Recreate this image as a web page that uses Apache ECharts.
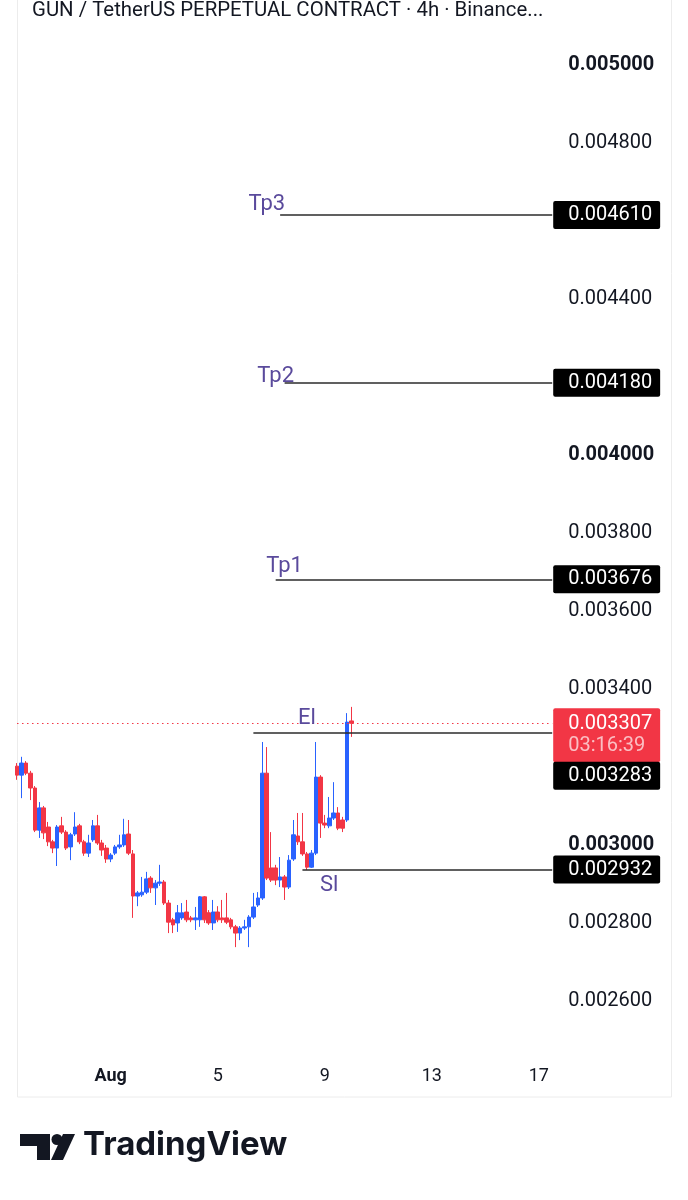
<!DOCTYPE html>
<html><head><meta charset="utf-8">
<script src="https://cdn.jsdelivr.net/npm/echarts@6/dist/echarts.min.js"></script>
<style>html,body{margin:0;padding:0;background:#fff}#c{width:688px;height:1200px}</style>
</head><body><div id="c"></div>
<script>
const titleText = 'GUN / TetherUS PERPETUAL CONTRACT · 4h · Binance...';
const startTime = Date.UTC(2025, 6, 28, 12, 0);
const stepHours = 4;
const slotCount = 121;
function pad(n){return (n<10?'0':'')+n;}
const categories = [];
for (let i = 0; i < slotCount; i++) {
  const d = new Date(startTime + i * stepHours * 3600e3);
  categories.push(pad(d.getUTCMonth()+1)+'-'+pad(d.getUTCDate())+' '+pad(d.getUTCHours())+':00');
}
const opens = [
0.003197,0.003174,0.003205,0.003179,0.003141,0.003033,0.003090,0.003041,0.003003,0.002987,
0.003044,0.003028,0.002990,0.003023,0.003044,0.003003,0.002974,0.003008,0.003044,0.003000,
0.002987,0.002959,0.002974,0.002990,0.002995,0.003023,0.002972,0.002864,0.002867,0.002874,
0.002910,0.002885,0.002897,0.002900,0.002846,0.002803,0.002795,0.002808,0.002823,0.002808,
0.002803,0.002803,0.002862,0.002821,0.002795,0.002823,0.002808,0.002808,0.002803,0.002785,
0.002769,0.002782,0.002785,0.002810,0.002841,0.002859,0.003179,0.002936,0.002936,0.002905,
0.002913,0.002887,0.002959,0.003018,0.003003,0.002972,0.002938,0.002974,0.003169,0.003051,
0.003044,0.003064,0.003077,0.003059,0.003059,0.003313];
const closes = [
0.003174,0.003205,0.003179,0.003141,0.003033,0.003090,0.003026,0.003003,0.002987,0.003041,
0.003028,0.002987,0.003021,0.003041,0.003003,0.002974,0.003000,0.003044,0.003000,0.002982,
0.002959,0.002969,0.002990,0.002995,0.003021,0.002974,0.002864,0.002872,0.002874,0.002908,
0.002885,0.002897,0.002900,0.002846,0.002797,0.002790,0.002821,0.002821,0.002803,0.002803,
0.002808,0.002862,0.002803,0.002795,0.002823,0.002803,0.002803,0.002797,0.002785,0.002769,
0.002782,0.002785,0.002810,0.002836,0.002859,0.003179,0.002910,0.002905,0.002905,0.002913,
0.002887,0.002956,0.003021,0.003003,0.002972,0.002938,0.002974,0.003169,0.003051,0.003046,
0.003064,0.003077,0.003038,0.003038,0.003310,0.003307];
const lows = [
0.003162,0.003115,0.003174,0.003110,0.003028,0.003013,0.003010,0.002992,0.002974,0.002941,
0.003023,0.002982,0.002956,0.003018,0.002997,0.002967,0.002964,0.003003,0.002995,0.002967,
0.002949,0.002951,0.002969,0.002985,0.002990,0.002969,0.002808,0.002838,0.002862,0.002869,
0.002872,0.002841,0.002890,0.002841,0.002769,0.002769,0.002772,0.002803,0.002797,0.002797,
0.002777,0.002785,0.002795,0.002790,0.002777,0.002797,0.002795,0.002792,0.002779,0.002733,
0.002751,0.002777,0.002733,0.002805,0.002836,0.002854,0.002905,0.002900,0.002892,0.002887,
0.002854,0.002882,0.002954,0.002995,0.002967,0.002931,0.002936,0.002969,0.003013,0.003038,
0.003038,0.003059,0.003033,0.003028,0.003054,0.003272];
const highs = [
0.003205,0.003221,0.003210,0.003185,0.003146,0.003105,0.003095,0.003054,0.003008,0.003046,
0.003067,0.003033,0.003026,0.003079,0.003049,0.003008,0.003021,0.003059,0.003072,0.003008,
0.002995,0.002974,0.002995,0.003021,0.003062,0.003059,0.002982,0.002877,0.002913,0.002926,
0.002915,0.002905,0.002944,0.002905,0.002854,0.002808,0.002841,0.002846,0.002854,0.002813,
0.002836,0.002864,0.002864,0.002828,0.002854,0.002838,0.002854,0.002872,0.002808,0.002790,
0.002787,0.002803,0.002815,0.002872,0.002874,0.003259,0.003246,0.003028,0.002944,0.002964,
0.002918,0.002969,0.003059,0.003077,0.003077,0.002977,0.002982,0.003259,0.003174,0.003072,
0.003118,0.003156,0.003092,0.003067,0.003333,0.003349];
const xTickCats = ['08-01 00:00','08-05 00:00','08-09 00:00','08-13 00:00','08-17 00:00'];
const xTickLabels = ['Aug','5','9','13','17'];
// 0.0042 and 0.0032 are hidden behind the price tags in the picture
const yTickValues = [0.0026,0.0028,0.0030,0.0034,0.0036,0.0038,0.0040,0.0044,0.0046,0.0048,0.0050];
const levelNames = ['Tp3','Tp2','Tp1','El','Sl'];
const levelPrices = [0.004610,0.004180,0.003676,0.003283,0.002932];
const levelStartCats = ['08-07 08:00','08-07 12:00','08-07 04:00','08-06 08:00','08-08 04:00'];
const textAnchorCats = ['08-06 20:00','08-07 04:00','08-07 12:00','08-08 08:00','08-09 04:00'];
const textAnchorPrices = [0.004636,0.004195,0.003710,0.003318,0.002890];
const lastPrice = 0.003307;
const countdown = '03:16:39';

const UP = '#2962FF', DOWN = '#F23645', INK = '#131722';
const FONT = 'Roboto';
const candleData = opens.map((o,i)=>[o, closes[i], lows[i], highs[i]]);
const lastCat = categories[slotCount-1];

const levelLines = levelNames.map((n,i)=>[
  {coord:[levelStartCats[i], levelPrices[i]],
   label:{formatter: levelPrices[i].toFixed(6), offset: n==='El' ? [0,43] : [0,0]}},
  {coord:[lastCat, levelPrices[i]]}
]);
const priceLine = [
  {coord:[categories[0], lastPrice],
   lineStyle:{color:DOWN, type:[1.5,3.5], width:1},
   label:{formatter:'{a|'+lastPrice.toFixed(6)+'}\n{b|'+countdown+'}', backgroundColor:DOWN,
    padding:[5,8,5,15], offset:[0,12],
    rich:{a:{color:'#fff',fontSize:20,lineHeight:22,fontFamily:FONT},
          b:{color:'rgba(255,255,255,0.68)',fontSize:20,lineHeight:22,fontFamily:FONT}}}},
  {coord:[lastCat, lastPrice]}
];

const textPoints = levelNames.map((n,i)=>({coord:[textAnchorCats[i], textAnchorPrices[i]], value:n}));

const chart = echarts.init(document.getElementById('c'));
chart.setOption({
  animation:false,
  backgroundColor:'#fff',
  grid:{left:17, right:135.8, top:31.8, bottom:142.5, containLabel:false},
  xAxis:{type:'category', data:categories, boundaryGap:false,
    axisLine:{show:false}, axisTick:{show:false}, splitLine:{show:false},
    axisLabel:{interval:(idx,val)=>xTickCats.indexOf(val)>=0, margin:10,
      formatter:(val)=>{const k=xTickCats.indexOf(val); return k===0?'{b|'+xTickLabels[0]+'}':(k>0?xTickLabels[k]:'');},
      color:INK, fontSize:18, fontFamily:FONT,
      rich:{b:{fontWeight:'bold',fontSize:18,color:INK,fontFamily:FONT}}}},
  yAxis:{type:'value', position:'right', min:0.00245, max:0.00508, scale:true,
    axisLine:{show:false}, axisTick:{show:false}, splitLine:{show:false},
    axisLabel:{customValues:yTickValues, margin:16, color:INK, fontSize:20, fontFamily:FONT, padding:[4,0,0,0],
      formatter:(v)=>{const s=v.toFixed(6); const bold=Math.abs(v*1000-Math.round(v*1000))<1e-7; return bold?'{b|'+s+'}':'{n|'+s+'}';},
      rich:{b:{fontWeight:'bold',fontSize:20,color:INK,fontFamily:FONT}, n:{fontSize:20,color:INK,fontFamily:FONT}}}},
  series:[{
    type:'candlestick', data:candleData, barWidth:'92%', clip:true,
    itemStyle:{color:UP, color0:DOWN, borderColor:UP, borderColor0:DOWN, borderWidth:1},
    markLine:{silent:true, symbol:'none', animation:false, precision:6,
      lineStyle:{color:'#2b2b2b', width:1.5, type:'solid'},
      label:{position:'end', distance:1, color:'#fff', backgroundColor:'#000', padding:[4,8,3,15],
        fontSize:20, lineHeight:21, fontFamily:FONT, borderRadius:2},
      data:[priceLine].concat(levelLines)},
    markPoint:{silent:true, symbol:'circle', symbolSize:1, itemStyle:{color:'rgba(0,0,0,0)'},
      label:{show:true, position:'inside', formatter:(p)=>p.value, color:'#5a4a9c', fontSize:22, fontFamily:FONT},
      data:textPoints}
  }],
  graphic:[
    {type:'rect', shape:{x:17.5, y:-2, width:654, height:1099}, style:{fill:'none', stroke:'#ececec', lineWidth:1}, z:-1, silent:true},
    {type:'text', left:32, top:1, style:{text:titleText, font:'20.4px Roboto', fill:INK}},
    {type:'polygon', shape:{points:[[20,1134],[50,1134],[50,1160],[37,1160],[37,1146],[20,1146]]}, style:{fill:INK}},
    {type:'circle', shape:{cx:57, cy:1139.5, r:5.5}, style:{fill:INK}},
    {type:'polygon', shape:{points:[[63,1134],[75,1134],[63,1160],[51,1160]]}, style:{fill:INK}},
    {type:'text', left:83, top:1129, style:{text:'TradingView', font:'bold 33px Inter', fill:INK}}
  ]
});
</script></body></html>
